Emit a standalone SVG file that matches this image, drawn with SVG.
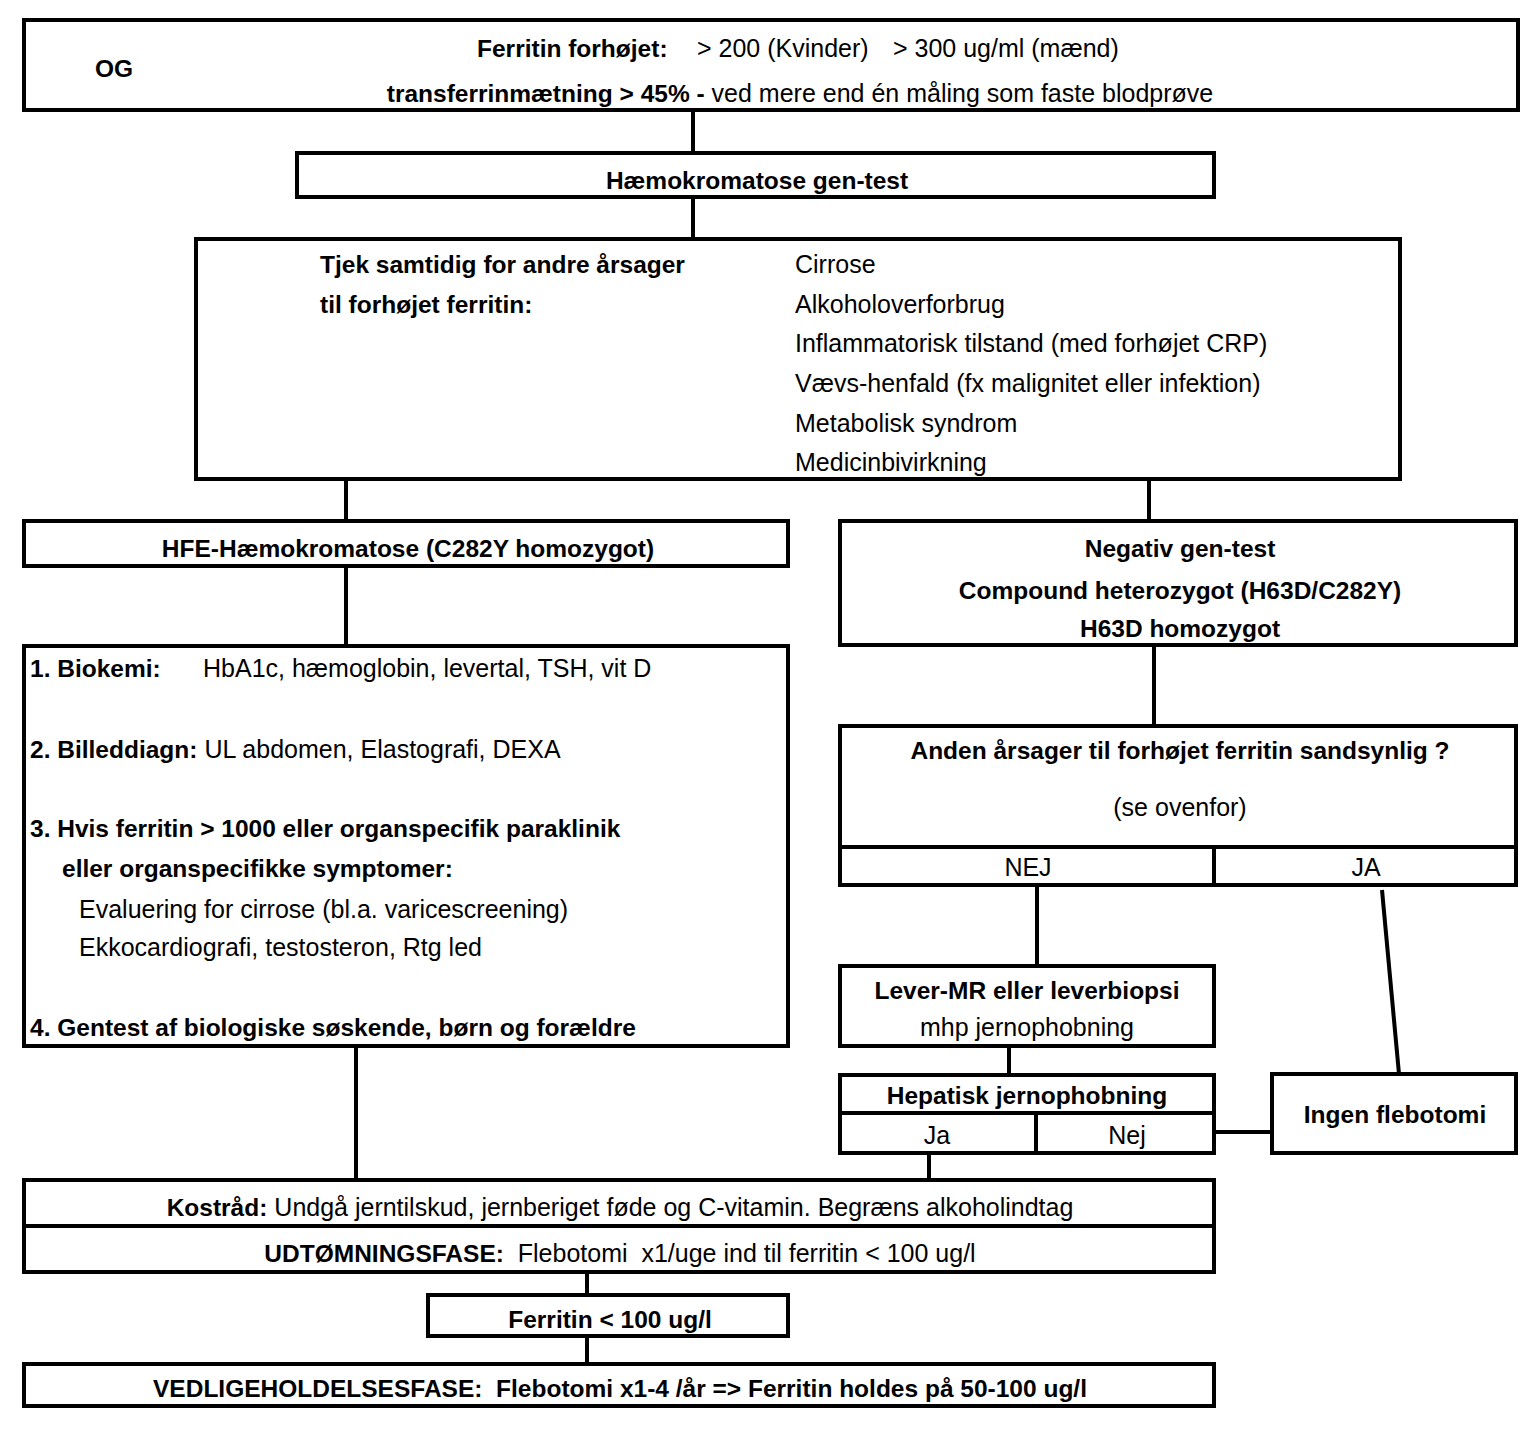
<svg xmlns="http://www.w3.org/2000/svg" width="1540" height="1434" viewBox="0 0 1540 1434">
<style>
rect.b{fill:#fff;stroke:#000;stroke-width:4}
line.d{stroke:#000;stroke-width:4}
#connectors line{stroke:#000;stroke-width:4}
text{font-family:"Liberation Sans",Arial,sans-serif;font-size:25px;fill:#000}
.bd{font-weight:bold;font-size:24.5px}
.c{text-anchor:middle}
.pre{white-space:pre}
</style>
<rect width="1540" height="1434" fill="#fff"/>
<g id="connectors">
<line x1="693" y1="110" x2="693" y2="153"/>
<line x1="693" y1="197" x2="693" y2="239"/>
<line x1="346" y1="479" x2="346" y2="521"/>
<line x1="1149" y1="479" x2="1149" y2="521"/>
<line x1="346" y1="566" x2="346" y2="646"/>
<line x1="1154" y1="645" x2="1154" y2="726"/>
<line x1="1037" y1="885" x2="1037" y2="966"/>
<line x1="1382" y1="890" x2="1399" y2="1074"/>
<line x1="1009" y1="1046" x2="1009" y2="1075"/>
<line x1="1216" y1="1132" x2="1272" y2="1132"/>
<line x1="356" y1="1046" x2="356" y2="1180"/>
<line x1="929" y1="1153" x2="929" y2="1180"/>
<line x1="587" y1="1272" x2="587" y2="1295"/>
<line x1="587" y1="1336" x2="587" y2="1364"/>
</g>
<g id="n1">
<rect class="b" x="24" y="20" width="1494" height="90"/>
<text x="95" y="77" class="bd">OG</text>
<text x="477" y="57"><tspan class="bd">Ferritin forhøjet:</tspan><tspan x="697">&gt; 200 (Kvinder)</tspan><tspan x="893">&gt; 300 ug/ml (mænd)</tspan></text>
<text x="800" y="102" class="c"><tspan class="bd">transferrinmætning &gt; 45% -</tspan> ved mere end én måling som faste blodprøve</text>
</g>
<g id="n2">
<rect class="b" x="297" y="153" width="917" height="44"/>
<text x="757" y="189" class="c bd">Hæmokromatose gen-test</text>
</g>
<g id="n3">
<rect class="b" x="196" y="239" width="1204" height="240"/>
<text x="320" y="273" class="bd">Tjek samtidig for andre årsager</text>
<text x="320" y="313" class="bd">til forhøjet ferritin:</text>
<text x="795" y="273">Cirrose</text>
<text x="795" y="313">Alkoholoverforbrug</text>
<text x="795" y="352">Inflammatorisk tilstand (med forhøjet CRP)</text>
<text x="795" y="392">Vævs-henfald (fx malignitet eller infektion)</text>
<text x="795" y="432">Metabolisk syndrom</text>
<text x="795" y="471">Medicinbivirkning</text>
</g>
<g id="n4">
<rect class="b" x="24" y="521" width="764" height="45"/>
<text x="408" y="557" class="c bd">HFE-Hæmokromatose (C282Y homozygot)</text>
</g>
<g id="n5">
<rect class="b" x="840" y="521" width="676" height="124"/>
<text x="1180" y="557" class="c bd">Negativ gen-test</text>
<text x="1180" y="599" class="c bd">Compound heterozygot (H63D/C282Y)</text>
<text x="1180" y="637" class="c bd">H63D homozygot</text>
</g>
<g id="n6">
<rect class="b" x="24" y="646" width="764" height="400"/>
<text x="30" y="677" class="bd">1. Biokemi:</text>
<text x="203" y="677">HbA1c, hæmoglobin, levertal, TSH, vit D</text>
<text x="30" y="758"><tspan class="bd">2. Billeddiagn:</tspan> UL abdomen, Elastografi, DEXA</text>
<text x="30" y="837" class="bd">3. Hvis ferritin &gt; 1000 eller organspecifik paraklinik</text>
<text x="62" y="877" class="bd">eller organspecifikke symptomer:</text>
<text x="79" y="918">Evaluering for cirrose (bl.a. varicescreening)</text>
<text x="79" y="956">Ekkocardiografi, testosteron, Rtg led</text>
<text x="30" y="1036" class="bd">4. Gentest af biologiske søskende, børn og forældre</text>
</g>
<g id="n7">
<rect class="b" x="840" y="726" width="676" height="159"/>
<line class="d" x1="840" y1="847" x2="1516" y2="847"/>
<line class="d" x1="1214" y1="847" x2="1214" y2="885"/>
<text x="1180" y="759" class="c bd">Anden årsager til forhøjet ferritin sandsynlig ?</text>
<text x="1180" y="816" class="c">(se ovenfor)</text>
<text x="1028" y="876" class="c">NEJ</text>
<text x="1366" y="876" class="c">JA</text>
</g>
<g id="n8">
<rect class="b" x="840" y="966" width="374" height="80"/>
<text x="1027" y="999" class="c bd">Lever-MR eller leverbiopsi</text>
<text x="1027" y="1036" class="c">mhp jernophobning</text>
</g>
<g id="n9">
<rect class="b" x="840" y="1075" width="374" height="78"/>
<line class="d" x1="840" y1="1113" x2="1214" y2="1113"/>
<line class="d" x1="1036" y1="1113" x2="1036" y2="1153"/>
<text x="1027" y="1104" class="c bd">Hepatisk jernophobning</text>
<text x="937" y="1144" class="c">Ja</text>
<text x="1127" y="1144" class="c">Nej</text>
</g>
<g id="n10">
<rect class="b" x="1272" y="1074" width="244" height="79"/>
<text x="1395" y="1123" class="c bd">Ingen flebotomi</text>
</g>
<g id="n11">
<rect class="b" x="24" y="1180" width="1190" height="92"/>
<line class="d" x1="24" y1="1226" x2="1214" y2="1226"/>
<text x="620" y="1216" class="c"><tspan class="bd">Kostråd:</tspan> Undgå jerntilskud, jernberiget føde og C-vitamin. Begræns alkoholindtag</text>
<text x="620" y="1262" class="c pre"><tspan class="bd">UDTØMNINGSFASE:</tspan>  Flebotomi  x1/uge ind til ferritin &lt; 100 ug/l</text>
</g>
<g id="n12">
<rect class="b" x="428" y="1295" width="360" height="41"/>
<text x="610" y="1328" class="c bd">Ferritin &lt; 100 ug/l</text>
</g>
<g id="n13">
<rect class="b" x="24" y="1364" width="1190" height="42"/>
<text x="620" y="1397" class="c bd pre">VEDLIGEHOLDELSESFASE:  Flebotomi x1-4 /år =&gt; Ferritin holdes på 50-100 ug/l</text>
</g>
</svg>
